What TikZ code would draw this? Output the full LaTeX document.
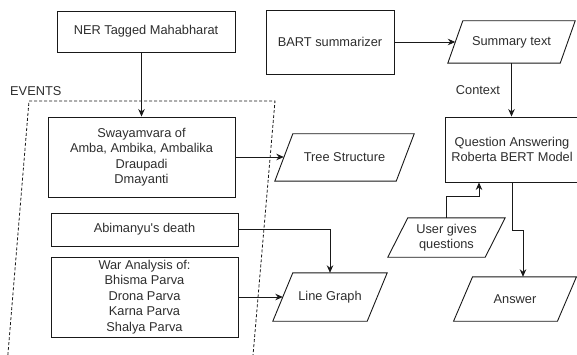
\documentclass[tikz,border=0pt]{standalone}
\usepackage{fontspec}
\setmainfont{Liberation Sans}
\usetikzlibrary{arrows.meta,calc}
\definecolor{txt}{RGB}{45,45,45}
\definecolor{ln}{RGB}{25,25,25}
\newcommand\paraout[2]{%
  \draw[plainline] ([xshift=#2pt]#1.north west) -- ([xshift=#2pt]#1.north east)
    -- ([xshift=-#2pt]#1.south east) -- ([xshift=-#2pt]#1.south west) -- cycle;}
\begin{document}
\begin{tikzpicture}[x=1pt,y=-1pt,
  base/.style={font=\fontsize{12.8}{15.5}\selectfont, text=txt, align=center, inner sep=0pt},
  box/.style={base, draw=ln, line width=0.9pt, rectangle},
  para/.style={base, rectangle},
  arr/.style={draw=ln, line width=0.9pt, -{Stealth[length=7.5pt,width=6.5pt]}},
  plainline/.style={draw=ln, line width=0.9pt}]
\useasboundingbox (0,0) rectangle (577,355);

\node[box, minimum width=178pt, minimum height=41pt] (ner) at (146,31.5) {NER Tagged Mahabharat};
\node[box, minimum width=128pt, minimum height=64pt] (bart) at (330,42) {BART summarizer};
\node[para, minimum width=112pt, minimum height=42pt] (sum) at (511.5,42) {Summary text};
\node[box, minimum width=134pt, minimum height=65pt] (qa) at (512,149.5) {Question Answering\\Roberta BERT Model};
\node[box, minimum width=187pt, minimum height=80pt] (sw) at (141.5,157) {Swayamvara of\\Amba, Ambika, Ambalika\\Draupadi\\Dmayanti};
\node[para, minimum width=121pt, minimum height=47pt] (tree) at (344.5,157.5) {Tree Structure};
\node[box, minimum width=187pt, minimum height=33pt] (ab) at (144.5,229.5) {Abimanyu\textquotesingle s death};
\node[box, minimum width=187pt, minimum height=80pt] (war) at (144.5,297) {War Analysis of:\\Bhisma Parva\\Drona Parva\\Karna Parva\\Shalya Parva};
\node[para, minimum width=94pt, minimum height=48pt] (lg) at (330,297) {Line Graph};
\node[para, minimum width=97pt, minimum height=39pt] (ug) at (446.5,237.5) {User gives\\questions};
\node[para, minimum width=103.5pt, minimum height=44pt] (ans) at (515,299) {Answer};
\node[base, anchor=west] (ev) at (10,91) {EVENTS};

\paraout{sum}{7.5}
\paraout{tree}{9}
\paraout{lg}{10}
\paraout{ug}{10}
\paraout{ans}{9.5}

\begin{scope}
  \clip (0,0) rectangle (577,355);
  \draw[draw=ln, line width=0.8pt, dash pattern=on 3pt off 2pt]
    (6.2,375) -- (29,101) -- (275,101) -- (251.3,375);
\end{scope}

\draw[arr] (sw.north |- ner.south) -- (sw.north);
\draw[arr] (bart.east) -- (sum.west);
\draw[arr] (sum.south) -- node[base, midway, left=11pt] (ctx) {Context} (sum.south |- qa.north);
\draw[arr] (sw.east) -- (sw.east -| tree.west);
\draw[arr] (ab.east) -| (lg.north);
\draw[arr] (war.east) -- (lg.west);
\draw[arr] (ug.north) -- ++(0,-21) -| ([xshift=-33pt]qa.south);
\draw[arr] (qa.south) -- ++(0,48) -| ([xshift=8pt]ans.north);
\end{tikzpicture}
\end{document}
